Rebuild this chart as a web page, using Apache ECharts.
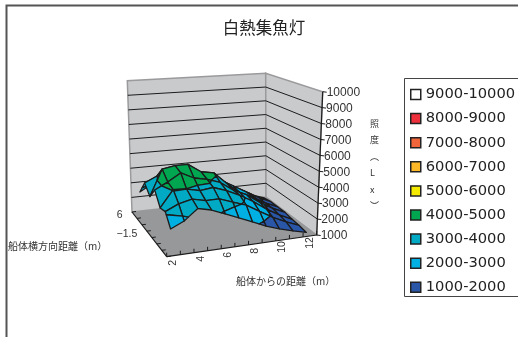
<!DOCTYPE html>
<html>
<head>
<meta charset="utf-8">
<style>html,body{margin:0;padding:0;background:#fff}#chart{width:518px;height:337px}</style>
<script src="https://cdn.jsdelivr.net/npm/echarts@6/dist/echarts.min.js"></script>
</head>
<body>
<div id="chart"></div>
<script>
const distances = [2, 3, 4, 5, 6, 7, 8, 9, 10, 11, 12];
const lateral = [6, 3.5, 1, -1.5, -4, -6.5, -9];
const row6 = [2530, 3000, 3200, 3200, 3100, 2900, 2700, 2400, 2000, 1500, 1200];
const row35 = [3520, 3900, 4000, 4200, 3900, 3600, 3200, 2700, 2200, 1700, 1300];
const row1 = [3000, 4700, 4850, 4850, 4270, 4100, 3300, 2560, 2190, 1680, 1300];
const rowM15 = [3780, 4200, 4700, 4280, 4100, 3800, 3200, 2800, 2200, 1700, 1300];
const rowM4 = [3000, 4050, 4000, 3800, 3900, 3600, 3200, 2700, 2100, 1600, 1200];
const rowM65 = [3130, 3500, 3700, 3500, 3500, 3200, 2900, 2400, 1900, 1500, 1150];
const rowM9 = [2420, 2800, 3450, 3250, 2900, 2540, 2180, 1810, 1510, 1270, 1050];
const illuminance = [row6, row35, row1, rowM15, rowM4, rowM65, rowM9];

const bandNames = ["9000-10000", "8000-9000", "7000-8000", "6000-7000", "5000-6000", "4000-5000", "3000-4000", "2000-3000", "1000-2000"];
const bandLows = [9000, 8000, 7000, 6000, 5000, 4000, 3000, 2000, 1000];
const bandColors = ["#ffffff", "#ee2f3c", "#f0653a", "#fdb827", "#f4ea00", "#00a650", "#00a9c4", "#00b0e2", "#2a56a8"];
const xTicks = [2, 4, 6, 8, 10, 12];
const yTicks = [6, -1.5];
const zTicks = [1000, 2000, 3000, 4000, 5000, 6000, 7000, 8000, 9000, 10000];

// screen corners of the 3D box: floor and ceiling, front-left / front-right / back-right / back-left
const FLOOR = [[166.7, 256.7], [316.7, 235], [266, 197], [132, 212]];
const CEIL = [[164, 106], [322.7, 91.7], [265.7, 73.3], [127.3, 80.7]];
const X_LO = 1.5, X_HI = 12.5, Y_LO = -10.25, Y_HI = 7.25;
const DARK = "#1c1c1c";
const TEXT = "#333";

function bilerp(c, u, v) {
  const out = [0, 0];
  for (let k = 0; k < 2; k++) {
    const front = c[0][k] + (c[1][k] - c[0][k]) * u;
    const back = c[3][k] + (c[2][k] - c[3][k]) * u;
    out[k] = front + (back - front) * v;
  }
  return out;
}

function project(x, y, z) {
  const u = (x - X_LO) / (X_HI - X_LO);
  const v = (y - Y_LO) / (Y_HI - Y_LO);
  const w = (z - 1000) / 9000;
  const a = bilerp(FLOOR, u, v);
  const b = bilerp(CEIL, u, v);
  return [a[0] + (b[0] - a[0]) * w, a[1] + (b[1] - a[1]) * w];
}

function clipZ(poly, level, keepAbove) {
  const out = [];
  poly.forEach((p, i) => {
    const q = poly[(i + 1) % poly.length];
    const pIn = keepAbove ? p[2] >= level : p[2] <= level;
    const qIn = keepAbove ? q[2] >= level : q[2] <= level;
    if (pIn) out.push(p);
    if (pIn !== qIn) {
      const t = (level - p[2]) / (q[2] - p[2]);
      out.push([p[0] + (q[0] - p[0]) * t, p[1] + (q[1] - p[1]) * t, level]);
    }
  });
  return out;
}

function polyShape(api, corners, style) {
  return {
    type: "polygon",
    shape: { points: corners.map((p) => api.coord(project(p[0], p[1], p[2]))) },
    style,
  };
}

function lineShape(api, a, b, stroke, lineWidth) {
  const p = api.coord(project(a[0], a[1], a[2]));
  const q = api.coord(project(b[0], b[1], b[2]));
  return { type: "line", shape: { x1: p[0], y1: p[1], x2: q[0], y2: q[1] }, style: { stroke, lineWidth } };
}

function renderBox(params, api) {
  const children = [];
  const wallStyle = { fill: "#c9cacc", stroke: "#9a9a9c", lineWidth: 1.5 };
  children.push(polyShape(api, [[X_LO, Y_HI, 1000], [X_HI, Y_HI, 1000], [X_HI, Y_HI, 10000], [X_LO, Y_HI, 10000]], wallStyle));
  children.push(polyShape(api, [[X_HI, Y_HI, 1000], [X_HI, Y_LO, 1000], [X_HI, Y_LO, 10000], [X_HI, Y_HI, 10000]], wallStyle));
  zTicks.slice(1, -1).forEach((z) => {
    children.push(lineShape(api, [X_LO, Y_HI, z], [X_HI, Y_HI, z], DARK, 1));
    children.push(lineShape(api, [X_HI, Y_HI, z], [X_HI, Y_LO, z], DARK, 1));
  });
  children.push(polyShape(api, [[X_LO, Y_LO, 1000], [X_HI, Y_LO, 1000], [X_HI, Y_HI, 1000], [X_LO, Y_HI, 1000]], { fill: "#97989a" }));
  children.push(lineShape(api, [X_LO, Y_LO, 1000], [X_HI, Y_LO, 1000], DARK, 1.2));
  children.push(lineShape(api, [X_LO, Y_LO, 1000], [X_LO, Y_HI, 1000], DARK, 1.2));
  children.push(lineShape(api, [X_HI, Y_LO, 1000], [X_HI, Y_LO, 10000], DARK, 1.2));
  // axis ticks
  zTicks.forEach((z) => {
    const p = api.coord(project(X_HI, Y_LO, z));
    children.push({ type: "line", shape: { x1: p[0], y1: p[1], x2: p[0] + 4, y2: p[1] + 0.5 }, style: { stroke: DARK, lineWidth: 1 } });
    children.push({ type: "text", style: { x: p[0] + 4, y: p[1] + 1, text: String(z), fill: TEXT, font: '12px "Liberation Sans"', verticalAlign: "middle" } });
  });
  [...distances, X_LO].forEach((d) => {
    const x = d === X_LO ? d : d + 0.5;
    const p = api.coord(project(x, Y_LO, 1000));
    children.push({ type: "line", shape: { x1: p[0], y1: p[1], x2: p[0], y2: p[1] - 4 }, style: { stroke: DARK, lineWidth: 1 } });
  });
  xTicks.forEach((x) => {
    const p = api.coord(project(x, Y_LO, 1000));
    children.push({
      type: "text", x: p[0], y: p[1] + 7, rotation: Math.PI / 2,
      style: { x: 0, y: 0, text: String(x), fill: TEXT, font: '10.5px "Liberation Sans"', align: "center", verticalAlign: "middle" },
    });
  });
  [...lateral, Y_HI].forEach((d) => {
    const y = d === Y_HI ? d : d - 1.25;
    const p = api.coord(project(X_LO, y, 1000));
    children.push({ type: "line", shape: { x1: p[0], y1: p[1], x2: p[0] + 4, y2: p[1] - 0.5 }, style: { stroke: DARK, lineWidth: 1 } });
  });
  yTicks.forEach((y) => {
    const p = api.coord(project(X_LO, y, 1000));
    children.push({ type: "text", style: { x: p[0] - 12, y: p[1], text: y < 0 ? "\u2212" + Math.abs(y) : String(y), fill: TEXT, font: '10.5px "Liberation Sans"', align: "right", verticalAlign: "middle" } });
  });
  return { type: "group", children };
}

// one mesh cell, split along the colour bands
function renderCell(params, api) {
  const i = api.value(0);
  const j = api.value(1);
  const corners = [[i, j], [i + 1, j], [i + 1, j + 1], [i, j + 1]].map(([c, r]) => [distances[c], lateral[r], illuminance[r][c]]);
  const children = [];
  bandLows.forEach((low, b) => {
    let poly = clipZ(corners, low, true);
    if (poly.length) poly = clipZ(poly, low + 1000, false);
    if (poly.length > 2) {
      children.push(polyShape(api, poly, { fill: bandColors[b], stroke: DARK, lineWidth: 1.3, lineJoin: "round" }));
    }
  });
  return { type: "group", children };
}

const cells = [];
for (let r = 0; r < lateral.length - 1; r++) {
  for (let c = distances.length - 2; c >= 0; c--) cells.push([c, r]);
}
cells.sort((a, b) => (a[1] - a[0]) - (b[1] - b[0]));

const legendSeries = bandNames.map((name, b) => ({
  name, type: "scatter", data: [], itemStyle: { color: bandColors[b], opacity: 1 },
}));

const chart = echarts.init(document.getElementById("chart"), null, { renderer: "canvas" });
chart.setOption({
  animation: false,
  backgroundColor: "#fff",
  title: {
    text: "白熱集魚灯", left: 259, top: 14, textAlign: "center",
    textStyle: { color: "#222", fontSize: 16.5, fontWeight: "normal", fontFamily: "Noto Sans CJK JP" },
  },
  grid: { left: 0, right: 0, top: 0, bottom: 0 },
  xAxis: { type: "value", min: 0, max: 518, show: false },
  yAxis: { type: "value", min: 0, max: 337, inverse: true, show: false },
  legend: {
    orient: "vertical", left: 405, top: 82, selectedMode: false, icon: "rect",
    itemWidth: 10, itemHeight: 10, itemGap: 9.1,
    itemStyle: { borderColor: "#222", borderWidth: 1.5, opacity: 1 },
    textStyle: { color: "#222", fontSize: 14.7, fontFamily: "DejaVu Sans" },
    data: bandNames,
  },
  graphic: [
    { type: "rect", shape: { x: 6.5, y: 5.5, width: 600, height: 400 }, style: { fill: "none", stroke: "#555", lineWidth: 2 }, silent: true },
    { type: "rect", shape: { x: 404.5, y: 78.5, width: 130, height: 218 }, style: { fill: "none", stroke: "#444", lineWidth: 1 }, silent: true },
    { type: "text", left: 8, top: 241, style: { text: "船体横方向距離（m）", fill: TEXT, font: '10px "Noto Sans CJK JP"' } },
    { type: "text", left: 236, top: 276, style: { text: "船体からの距離（m）", fill: TEXT, font: '10px "Noto Sans CJK JP"' } },
    { type: "text", left: 370, top: 115, style: { text: "照\n度\n︵\nL\nx\n︶", fill: TEXT, font: '9px "Noto Sans CJK JP"', lineHeight: 16.5, align: "center" } },
  ],
  series: [
    { type: "custom", coordinateSystem: "cartesian2d", renderItem: renderBox, data: [[0, 0]], silent: true, clip: false, z: 1 },
    { type: "custom", coordinateSystem: "cartesian2d", renderItem: renderCell, data: cells, silent: true, clip: false, z: 2 },
    ...legendSeries,
  ],
});
</script>
</body>
</html>
